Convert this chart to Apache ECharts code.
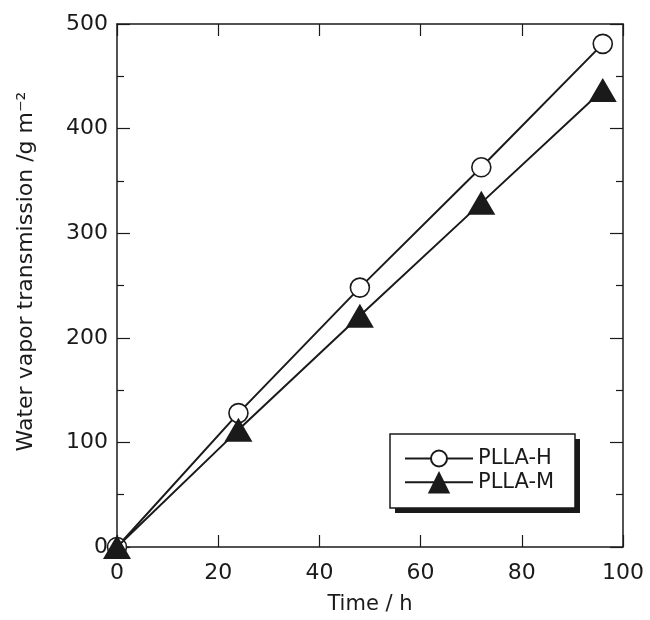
<!DOCTYPE html>
<html><head><meta charset="utf-8">
<script src="https://cdn.jsdelivr.net/npm/echarts@6/dist/echarts.min.js"></script>
<style>html,body{margin:0;padding:0;background:#fff}#c{width:650px;height:620px}</style>
</head><body><div id="c"></div>
<script>
const timeH = [0, 24, 48, 72, 96];
const pllaH = [0, 128, 248, 363, 481];
const pllaM = [0, 112, 221, 329, 437];
const xTicks = [0, 20, 40, 60, 80, 100];
const yTicks = [0, 100, 200, 300, 400, 500];
const font = 'DejaVu Sans';
const col = '#1a1a1a';
const chart = echarts.init(document.getElementById('c'));
const baseX = {
  type: 'value', min: 0, max: 100, interval: 20,
  axisLine: {show: true, onZero: false, lineStyle: {color: col, width: 1.5}},
  axisTick: {show: true, inside: true, length: 12, lineStyle: {color: col, width: 1.2}},
  splitLine: {show: false}
};
const baseY = {
  type: 'value', min: 0, max: 500, interval: 100,
  axisLine: {show: true, onZero: false, lineStyle: {color: col, width: 1.5}},
  axisTick: {show: true, inside: true, length: 13, lineStyle: {color: col, width: 1.2}},
  minorTick: {show: true, splitNumber: 2, length: 7, lineStyle: {color: col, width: 1.2}},
  splitLine: {show: false}, minorSplitLine: {show: false}
};
const legendBase = {
  left: 404, orient: 'vertical', z: 10, padding: 0, itemWidth: 68,
  textStyle: {fontFamily: font, fontSize: 21, color: col}
};
chart.setOption({
  animation: false,
  grid: {left: 117, right: 27, top: 24, bottom: 72},
  xAxis: [
    Object.assign({}, baseX, {position: 'bottom',
      name: 'Time / h', nameLocation: 'middle', nameGap: 47,
      nameTextStyle: {fontFamily: font, fontSize: 21, color: col},
      axisLabel: {fontFamily: font, fontSize: 22, color: col, margin: 15,
        formatter: v => xTicks.includes(v) ? String(v) : ''}}),
    Object.assign({}, baseX, {position: 'top', axisLabel: {show: false}})
  ],
  yAxis: [
    Object.assign({}, baseY, {position: 'left',
      name: 'Water vapor transmission /g m⁻²', nameLocation: 'middle', nameGap: 80,
      nameTextStyle: {fontFamily: font, fontSize: 22, color: col, padding: [0, 0, 0, 28]},
      axisLabel: {fontFamily: font, fontSize: 22, color: col, margin: 9,
        formatter: v => yTicks.includes(v) ? String(v) : ''}}),
    Object.assign({}, baseY, {position: 'right', axisLabel: {show: false}})
  ],
  graphic: [
    {type: 'rect', z: 1, shape: {x: 395, y: 439, width: 185, height: 74}, style: {fill: col}},
    {type: 'rect', z: 2, shape: {x: 390, y: 434, width: 185, height: 74},
      style: {fill: '#fff', stroke: col, lineWidth: 1.5}}
  ],
  legend: [
    Object.assign({}, legendBase, {top: 448, itemHeight: 20, data: ['PLLA-H']}),
    Object.assign({}, legendBase, {top: 471, itemHeight: 28, data: ['PLLA-M']})
  ],
  series: [
    {name: 'PLLA-H', type: 'line', data: timeH.map((t, i) => [t, pllaH[i]]),
      symbol: 'circle', symbolSize: 19,
      itemStyle: {color: '#fff', borderColor: col, borderWidth: 1.6},
      lineStyle: {color: col, width: 2}, z: 3},
    {name: 'PLLA-M', type: 'line', data: timeH.map((t, i) => [t, pllaM[i]]),
      symbol: 'triangle', symbolSize: [28, 24],
      itemStyle: {color: col, borderColor: col, borderWidth: 0},
      lineStyle: {color: col, width: 2}, z: 4}
  ]
});
</script></body></html>
